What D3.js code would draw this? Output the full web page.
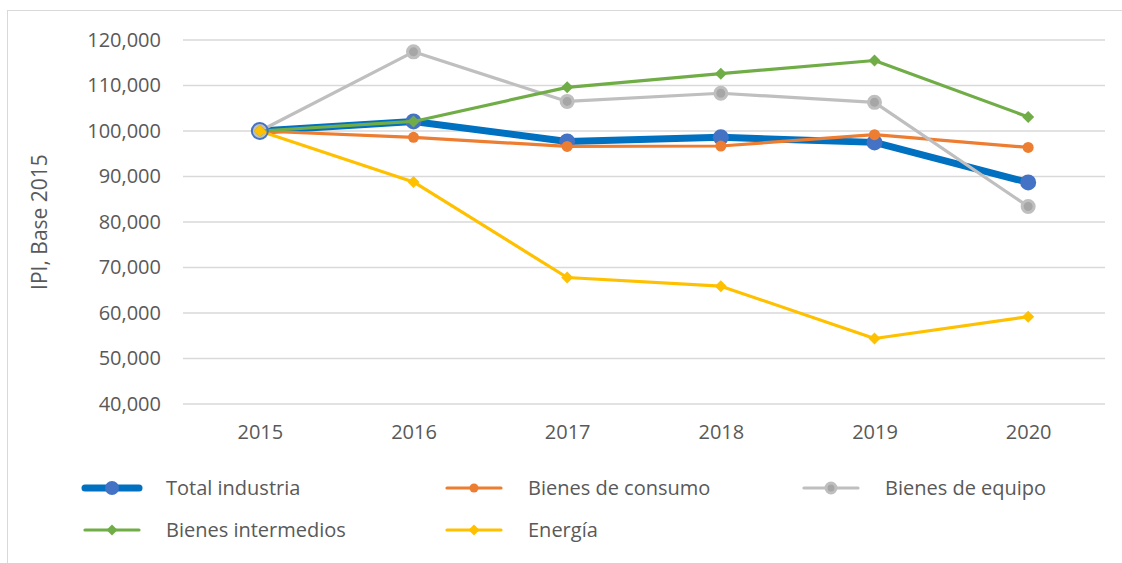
<!DOCTYPE html>
<html>
<head>
<meta charset="utf-8">
<script src="https://cdn.jsdelivr.net/npm/d3@7"></script>
<style>
  body { margin: 0; background: #fff; }
  text { font-family: "Open Sans", "Liberation Sans", sans-serif; fill: #595959; }
</style>
</head>
<body>
<div class="chart"></div>
<script>
// data
const years = ["2015", "2016", "2017", "2018", "2019", "2020"];
const totalIndustria = [100, 102.1, 97.7, 98.6, 97.5, 88.7];
const bienesConsumo = [100, 98.6, 96.6, 96.7, 99.2, 96.4];
const bienesEquipo = [100, 117.4, 106.5, 108.3, 106.3, 83.4];
const bienesIntermedios = [100, 102.1, 109.6, 112.6, 115.5, 103.1];
const energia = [100, 88.8, 67.8, 65.9, 54.4, 59.2];
const yTicks = [40, 50, 60, 70, 80, 90, 100, 110, 120];

const series = [
  {name: "Total industria", values: totalIndustria, color: "#0070c0", marker: "#4472c4", width: 7, shape: "circle", r: 8},
  {name: "Bienes de consumo", values: bienesConsumo, color: "#ed7d31", marker: "#ed7d31", width: 3.2, shape: "circle", r: 5.5},
  {name: "Bienes de equipo", values: bienesEquipo, color: "#bfbfbf", marker: "#bfbfbf", width: 3.2, shape: "ring", r: 6},
  {name: "Bienes intermedios", values: bienesIntermedios, color: "#70ad47", marker: "#70ad47", width: 3.2, shape: "diamond", r: 6},
  {name: "Energía", values: energia, color: "#ffc000", marker: "#ffc000", width: 3.2, shape: "diamond", r: 6}
];

const W = 1122, H = 563;
const margin = {top: 40, right: 17, bottom: 159, left: 183};
const width = W - margin.left - margin.right,
      height = H - margin.top - margin.bottom;
const fontSize = 20;

const root = d3.select(".chart").append("svg")
    .attr("width", W)
    .attr("height", H);

// outer frame
root.append("rect")
    .attr("x", 7.5).attr("y", 10.5)
    .attr("width", W).attr("height", H)
    .attr("fill", "none")
    .attr("stroke", "#d9d9d9");

const svg = root.append("g")
    .attr("transform", `translate(${margin.left},${margin.top})`);

const xScale = d3.scalePoint().domain(years).range([0, width]).padding(0.5);
const yScale = d3.scaleLinear().domain([40, 120]).range([height, 0]);

// gridlines
svg.append("g")
    .selectAll("line")
    .data(yTicks)
    .join("line")
    .attr("x1", 0).attr("x2", width)
    .attr("y1", d => yScale(d)).attr("y2", d => yScale(d))
    .attr("stroke", "#d9d9d9")
    .attr("stroke-width", 1.5);

// axes
const fmt = d => d3.format(",")(d * 1000);
const yAxisSVG = svg.append("g")
    .call(d3.axisLeft(yScale).tickValues(yTicks).tickFormat(fmt).tickSize(0).tickPadding(22));
const xAxisSVG = svg.append("g")
    .attr("transform", `translate(0,${height})`)
    .call(d3.axisBottom(xScale).tickSize(0).tickPadding(21));
[yAxisSVG, xAxisSVG].forEach(g => {
  g.select(".domain").remove();
  g.selectAll("text").attr("font-size", fontSize).attr("fill", "#595959")
    .style("font-family", '"Open Sans", "Liberation Sans", sans-serif');
});

svg.append("text")
    .attr("transform", `translate(${47 - margin.left},${height / 2}) rotate(-90)`)
    .attr("text-anchor", "middle")
    .attr("font-size", 21)
    .text("IPI, Base 2015");

// markers
function drawMarker(g, s, x, y) {
  if (s.shape === "diamond") {
    g.append("rect")
      .attr("x", -s.r / 1.414).attr("y", -s.r / 1.414)
      .attr("width", s.r * 1.414).attr("height", s.r * 1.414)
      .attr("transform", `translate(${x},${y}) rotate(45)`)
      .attr("fill", s.marker);
  } else if (s.shape === "ring") {
    g.append("circle").attr("cx", x).attr("cy", y).attr("r", s.r)
      .attr("fill", "#a6a6a6").attr("stroke", s.marker).attr("stroke-width", 3);
  } else {
    g.append("circle").attr("cx", x).attr("cy", y).attr("r", s.r)
      .attr("fill", s.marker);
  }
}

const line = d3.line()
    .x((d, i) => xScale(years[i]))
    .y(d => yScale(d));

series.forEach(s => {
  const g = svg.append("g");
  g.append("path")
    .attr("d", line(s.values))
    .attr("fill", "none")
    .attr("stroke", s.color)
    .attr("stroke-width", s.width)
    .attr("stroke-linejoin", "round");
  s.values.forEach((v, i) => drawMarker(g, s, xScale(years[i]), yScale(v)));
});

// outline of the first total industria point shows round the others at 2015
svg.append("circle")
    .attr("cx", xScale(years[0])).attr("cy", yScale(totalIndustria[0])).attr("r", 8)
    .attr("fill", "none").attr("stroke", "#4472c4").attr("stroke-width", 2);

// legend
const legendPos = [
  {x: 85, y: 488}, {x: 447, y: 488}, {x: 804, y: 488},
  {x: 85, y: 530}, {x: 447, y: 530}
];
const legend = root.append("g");
series.forEach((s, i) => {
  const p = legendPos[i];
  const g = legend.append("g");
  g.append("line")
    .attr("x1", p.x).attr("x2", p.x + 54)
    .attr("y1", p.y).attr("y2", p.y)
    .attr("stroke", s.color)
    .attr("stroke-width", s.width)
    .attr("stroke-linecap", "round");
  drawMarker(g, Object.assign({}, s, {r: s.shape === "diamond" ? 5.5 : s.r - 1}), p.x + 27, p.y);
  g.append("text")
    .attr("x", p.x + 81)
    .attr("y", p.y)
    .attr("dy", "0.35em")
    .attr("font-size", fontSize)
    .text(s.name);
});
</script>
</body>
</html>
